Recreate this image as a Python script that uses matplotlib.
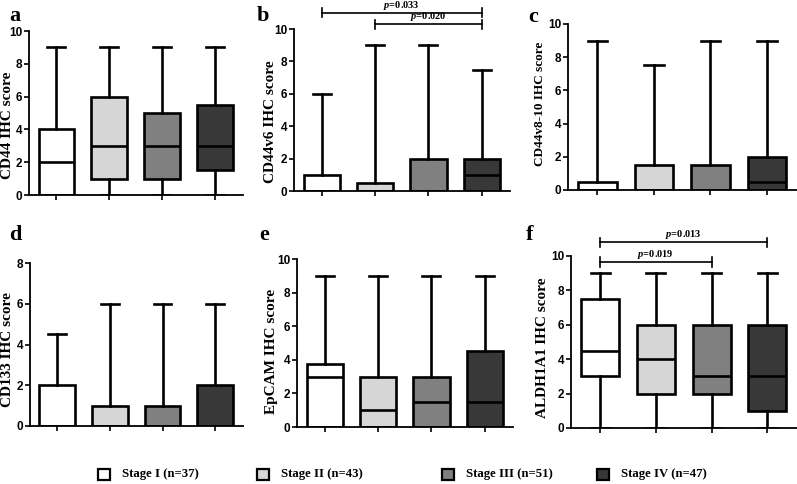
import matplotlib.pyplot as plt
from matplotlib.patches import Rectangle

plt.rcParams['mathtext.fontset'] = 'custom'
plt.rcParams['mathtext.it'] = 'Liberation Serif:italic:bold'
plt.rcParams['mathtext.rm'] = 'Liberation Serif:bold'

# stage groups
stages = ["Stage I (n=37)", "Stage II (n=43)", "Stage III (n=51)", "Stage IV (n=47)"]
colors = ["#ffffff", "#d6d6d6", "#808080", "#383838"]

# per panel: min, q1, median, q3, max for stage I..IV
cd44_min = [0, 0, 0, 0]
cd44_q1 = [0, 1, 1, 1.5]
cd44_med = [2, 3, 3, 3]
cd44_q3 = [4, 6, 5, 5.5]
cd44_max = [9, 9, 9, 9]

cd44v6_min = [0, 0, 0, 0]
cd44v6_q1 = [0, 0, 0, 0]
cd44v6_med = [0, 0, 0, 1]
cd44v6_q3 = [1, 0.5, 2, 2]
cd44v6_max = [6, 9, 9, 7.5]

cd44v810_min = [0, 0, 0, 0]
cd44v810_q1 = [0, 0, 0, 0]
cd44v810_med = [0, 0, 0, 0.5]
cd44v810_q3 = [0.5, 1.5, 1.5, 2]
cd44v810_max = [9, 7.5, 9, 9]

cd133_min = [0, 0, 0, 0]
cd133_q1 = [0, 0, 0, 0]
cd133_med = [0, 0, 0, 0]
cd133_q3 = [2, 1, 1, 2]
cd133_max = [4.5, 6, 6, 6]

epcam_min = [0, 0, 0, 0]
epcam_q1 = [0, 0, 0, 0]
epcam_med = [3, 1, 1.5, 1.5]
epcam_q3 = [3.75, 3, 3, 4.5]
epcam_max = [9, 9, 9, 9]

aldh_min = [0, 0, 0, 0]
aldh_q1 = [3, 2, 2, 1]
aldh_med = [4.5, 4, 3, 3]
aldh_q3 = [7.5, 6, 6, 6]
aldh_max = [9, 9, 9, 9]

# significance brackets: (group a, group b, label)
cd44v6_sig = [(1, 4, "0.033"), (2, 4, "0.020")]
aldh_sig = [(1, 4, "0.013"), (1, 3, "0.019")]

W, H = 797, 484
fig = plt.figure(figsize=(W / 100, H / 100), dpi=100)
ylabels = []  # (text artist, target length in px)


def px_axes(x0, x1, ytop, ybot):
    return fig.add_axes([x0 / W, 1 - ybot / H, (x1 - x0) / W, (ybot - ytop) / H])


def draw_panel(ax, mins, q1s, meds, q3s, maxs, ylabel, label_xy, label_len, ytop=10):
    stats = []
    for lo, a, m, b, hi in zip(mins, q1s, meds, q3s, maxs):
        stats.append(dict(whislo=lo, q1=a, med=m, q3=b, whishi=hi, fliers=[]))
    lw = 1.9
    bp = ax.bxp(stats, positions=[1, 2, 3, 4], widths=0.68, patch_artist=True,
                showfliers=False, capwidths=0.34,
                boxprops=dict(linewidth=lw, edgecolor='black'),
                whiskerprops=dict(linewidth=lw, color='black'),
                capprops=dict(linewidth=lw, color='black'),
                medianprops=dict(linewidth=lw, color='black'))
    for patch, c in zip(bp['boxes'], colors):
        patch.set_facecolor(c)
    ax.set_xlim(0.48, 4.53)
    ax.set_ylim(0, ytop)
    ax.set_yticks(range(0, ytop + 1, 2))
    ax.set_xticks([1, 2, 3, 4])
    ax.set_xticklabels([])
    for s in ['top', 'right']:
        ax.spines[s].set_visible(False)
    for s in ['left', 'bottom']:
        ax.spines[s].set_linewidth(1.3)
    ax.tick_params(axis='both', direction='out', length=3.5, width=1.2, pad=1.2)
    for t in ax.get_yticklabels():
        t.set_fontfamily('Liberation Sans')
        t.set_fontweight('bold')
        t.set_fontsize(8.5)
    t = fig.text(label_xy[0] / W, 1 - label_xy[1] / H, ylabel, rotation=90,
                 ha='center', va='center', fontfamily='Liberation Serif',
                 fontweight='bold', fontsize=10.5)
    ylabels.append((t, label_len))


def add_sig(ax, sigs, levels):
    for (g1, g2, p), y in zip(sigs, levels):
        ax.plot([g1, g2], [y, y], color='black', lw=1.2, clip_on=False)
        for g in (g1, g2):
            ax.plot([g, g], [y - 0.27, y + 0.27], color='black', lw=1.2, clip_on=False)
        ax.text((g1 + g2) / 2, y + 0.08, r"$p$=" + p, ha='center', va='bottom',
                fontsize=7.5, fontfamily='Liberation Serif', fontweight='bold')


ax_a = px_axes(29, 243, 31, 195)
draw_panel(ax_a, cd44_min, cd44_q1, cd44_med, cd44_q3, cd44_max, "CD44 IHC score",
           (8, 125), 128)

ax_b = px_axes(294, 510, 29, 191)
draw_panel(ax_b, cd44v6_min, cd44v6_q1, cd44v6_med, cd44v6_q3, cd44v6_max,
           "CD44v6 IHC score", (271, 122), 135)
add_sig(ax_b, cd44v6_sig, [11.0, 10.3])

ax_c = px_axes(568, 797, 24, 190)
draw_panel(ax_c, cd44v810_min, cd44v810_q1, cd44v810_med, cd44v810_q3, cd44v810_max,
           "CD44v8-10 IHC score", (540, 104), 125)

ax_d = px_axes(30, 243, 263, 426)
draw_panel(ax_d, cd133_min, cd133_q1, cd133_med, cd133_q3, cd133_max,
           "CD133 IHC score", (8, 350), 134, ytop=8)

ax_e = px_axes(297, 513, 259, 427)
draw_panel(ax_e, epcam_min, epcam_q1, epcam_med, epcam_q3, epcam_max,
           "EpCAM IHC score", (271, 351), 137)

ax_f = px_axes(571, 797, 256, 428)
draw_panel(ax_f, aldh_min, aldh_q1, aldh_med, aldh_q3, aldh_max,
           "ALDH1A1 IHC score", (542, 348), 143)
add_sig(ax_f, aldh_sig, [10.8, 9.65])

# fit y label sizes to the lengths seen in the reference, within limits
fig.canvas.draw()
renderer = fig.canvas.get_renderer()
for t, target in ylabels:
    h = t.get_window_extent(renderer).height
    size = t.get_fontsize() * target / h
    t.set_fontsize(min(max(size, 9.5), 11))

# panel letters
letters = ["a", "b", "c", "d", "e", "f"]
letter_xy = [(9, 21), (257, 21), (528, 22), (9, 240), (259, 240), (526, 240)]
for lab, (x, y) in zip(letters, letter_xy):
    fig.text(x / W, 1 - y / H, lab, fontfamily='Liberation Serif', fontweight='bold',
             fontsize=16, va='baseline', ha='left')

# legend
leg_x = [98, 257, 442, 597]
for lab, c, x in zip(stages, colors, leg_x):
    fig.patches.append(Rectangle((x / W, 1 - 480 / H), 12 / W, 11 / H,
                                 transform=fig.transFigure, facecolor=c,
                                 edgecolor='black', linewidth=1.6))
    fig.text((x + 24) / W, 1 - 474.5 / H, lab, fontfamily='Liberation Serif',
             fontweight='bold', fontsize=9.2, va='center', ha='left')

fig.savefig("out.png", dpi=100)
